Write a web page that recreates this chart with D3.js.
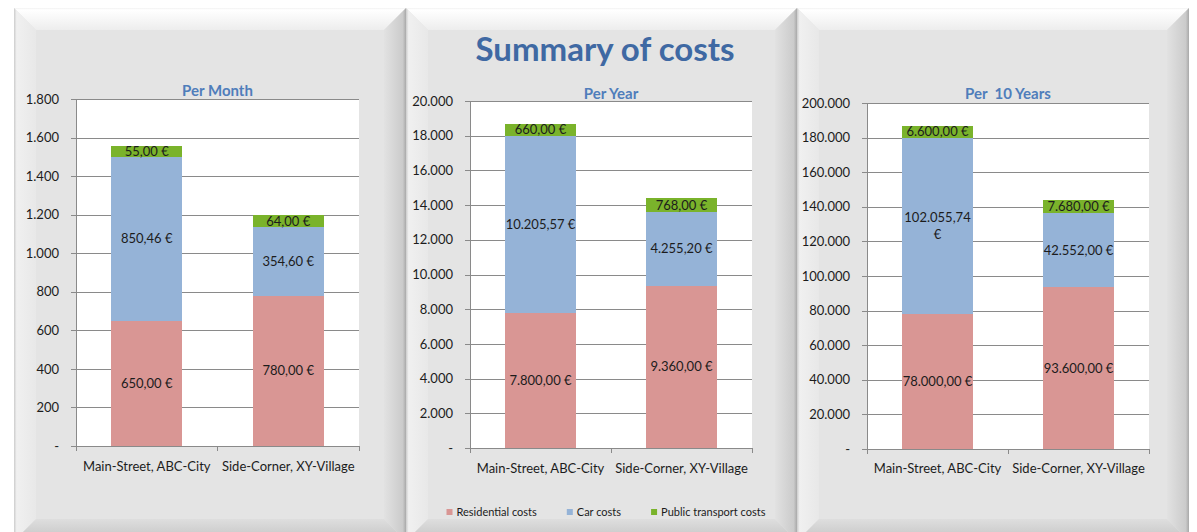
<!DOCTYPE html>
<html>
<head>
<meta charset="utf-8">
<script src="https://cdn.jsdelivr.net/npm/d3@7"></script>
<style>
  html, body { margin: 0; padding: 0; background: #ffffff; }
  svg { display: block; font-family: Lato, "Open Sans", sans-serif; }
</style>
</head>
<body>
<div id="chart"></div>
<script>

// chart data
var chartTitle = 'Summary of costs';
var categories = [ 'Main-Street, ABC-City', 'Side-Corner, XY-Village' ];
var seriesNames = [ 'Residential costs', 'Car costs', 'Public transport costs' ];
var panelTitles = [ 'Per Month', 'Per Year', 'Per  10 Years' ];

// one row per panel, one value per category
var residentialCosts = [ [ 650, 780 ], [ 7800, 9360 ], [ 78000, 93600 ] ];
var carCosts = [ [ 850.46, 354.60 ], [ 10205.57, 4255.20 ], [ 102055.74, 42552.00 ] ];
var publicTransportCosts = [ [ 55, 64 ], [ 660, 768 ], [ 6600, 7680 ] ];

// y axis ticks per panel
var yTicks = [
    [ 0, 200, 400, 600, 800, 1000, 1200, 1400, 1600, 1800 ],
    [ 0, 2000, 4000, 6000, 8000, 10000, 12000, 14000, 16000, 18000, 20000 ],
    [ 0, 20000, 40000, 60000, 80000, 100000, 120000, 140000, 160000, 180000, 200000 ]
];

var seriesColors = [ '#d99694', '#95b3d7', '#7ab32b' ];

// layout
var width = 1197,
    height = 532;

var frames = [
    { x0: 14, x1: 406 },
    { x0: 406, x1: 797 },
    { x0: 797, x1: 1189 }
];
var frameTop = 8,
    frameBottom = 541,
    bevel = 22;

var plots = [
    { l: 76, r: 359, t: 99, b: 446, titleY: 91, labelY: 466 },
    { l: 470, r: 752, t: 101, b: 448, titleY: 94, labelY: 468 },
    { l: 867, r: 1149, t: 103, b: 449, titleY: 94, labelY: 468 }
];

var textColor = '#1c1c1c';

var locale = d3.formatLocale({ decimal: ',', thousands: '.', grouping: [ 3 ], currency: [ '', ' €' ] });
var fmtInt = locale.format(',.0f');
var fmtValue = locale.format('$,.2f');
var fmtTick = function ( v ) { return v === 0 ? '-' : fmtInt( v ); };

var svg = d3.select('#chart').append('svg')
    .attr('width', width)
    .attr('height', height);

var defs = svg.append('defs');

function linear ( id, x1, y1, x2, y2, stops ) {

    var g = defs.append('linearGradient')
        .attr('id', id)
        .attr('x1', x1).attr('y1', y1)
        .attr('x2', x2).attr('y2', y2);

    stops.forEach( function ( s ) {
        g.append('stop').attr('offset', s[ 0 ]).attr('stop-color', s[ 1 ]);
    });

}

linear('bevelTop', 0, 0, 0, 1, [ [ 0, '#f2f2f2' ], [ 0.08, '#ffffff' ], [ 1, '#ededed' ] ]);
linear('bevelLeft', 0, 0, 1, 0, [ [ 0, '#cccccc' ], [ 0.12, '#f0f0f0' ], [ 1, '#e8e8e8' ] ]);
linear('bevelRight', 0, 0, 1, 0, [ [ 0, '#e2e2e2' ], [ 0.85, '#cbcbcb' ], [ 1, '#a9a9a9' ] ]);
linear('bevelBottom', 0, 0, 0, 1, [ [ 0, '#dedede' ], [ 1, '#c4c4c4' ] ]);

/* bevelled panels */

frames.forEach( function ( f ) {

    var g = svg.append('g');
    var x0 = f.x0, x1 = f.x1, y0 = frameTop, y1 = frameBottom, b = bevel;

    g.append('rect')
        .attr('x', x0).attr('y', y0)
        .attr('width', x1 - x0).attr('height', y1 - y0)
        .attr('fill', '#e4e4e4');

    var poly = function ( pts, fill ) {
        g.append('polygon')
            .attr('points', pts.map( function ( p ) { return p.join(','); }).join(' '))
            .attr('fill', fill);
    };

    poly([ [ x0, y0 ], [ x1, y0 ], [ x1 - b, y0 + b ], [ x0 + b, y0 + b ] ], 'url(#bevelTop)');
    poly([ [ x0, y0 ], [ x0 + b, y0 + b ], [ x0 + b, y1 - b ], [ x0, y1 ] ], 'url(#bevelLeft)');
    poly([ [ x1, y0 ], [ x1, y1 ], [ x1 - b, y1 - b ], [ x1 - b, y0 + b ] ], 'url(#bevelRight)');
    poly([ [ x0, y1 ], [ x0 + b, y1 - b ], [ x1 - b, y1 - b ], [ x1, y1 ] ], 'url(#bevelBottom)');

});

/* title */

svg.append('text')
    .attr('x', 605)
    .attr('y', 49)
    .attr('dy', '0.35em')
    .attr('text-anchor', 'middle')
    .style('font-size', '33px')
    .style('font-weight', 'bold')
    .style('fill', '#3f69a3')
    .text( chartTitle );

/* panels */

plots.forEach( function ( p, pi ) {

    var ticks = yTicks[ pi ];

    var rows = categories.map( function ( c, i ) {
        return {
            category: c,
            residential: residentialCosts[ pi ][ i ],
            car: carCosts[ pi ][ i ],
            transport: publicTransportCosts[ pi ][ i ]
        };
    });

    var keys = [ 'residential', 'car', 'transport' ];
    var stacked = d3.stack().keys( keys )( rows );

    var x = d3.scaleBand()
        .domain( categories )
        .range([ p.l, p.r ])
        .paddingInner( 0.5 )
        .paddingOuter( 0.25 );

    var y = d3.scaleLinear()
        .domain([ 0, d3.max( ticks ) ])
        .range([ p.b, p.t ]);

    var g = svg.append('g');

    g.append('rect')
        .attr('x', p.l).attr('y', p.t)
        .attr('width', p.r - p.l).attr('height', p.b - p.t)
        .attr('fill', '#ffffff');

    // gridlines
    var grid = g.append('g')
        .attr('transform', 'translate(' + p.l + ',0)')
        .call( d3.axisLeft( y ).tickValues( ticks ).tickSize( -( p.r - p.l ) ).tickFormat('') );

    grid.select('.domain').remove();
    grid.selectAll('line').attr('stroke', '#8a8a8a').attr('shape-rendering', 'crispEdges');

    // bars
    stacked.forEach( function ( layer, li ) {

        g.append('g')
            .selectAll('rect')
            .data( layer )
            .enter().append('rect')
            .attr('x', function ( d ) { return x( d.data.category ); })
            .attr('y', function ( d ) { return y( d[ 1 ] ); })
            .attr('width', x.bandwidth())
            .attr('height', function ( d ) { return y( d[ 0 ] ) - y( d[ 1 ] ); })
            .attr('fill', seriesColors[ li ])
            .attr('shape-rendering', 'crispEdges');

    });

    // y axis labels + ticks
    var yAxis = g.append('g')
        .attr('transform', 'translate(' + p.l + ',0)')
        .call( d3.axisLeft( y ).tickValues( ticks ).tickSize( 5 ).tickPadding( 12 ).tickFormat( fmtTick ) );

    yAxis.select('.domain').remove();
    yAxis.selectAll('line').attr('stroke', '#8a8a8a').attr('shape-rendering', 'crispEdges');
    yAxis.selectAll('text')
        .style('font-size', '13px')
        .style('font-family', 'Lato, sans-serif')
        .style('fill', textColor);

    g.append('line')
        .attr('x1', p.l).attr('x2', p.l)
        .attr('y1', p.t).attr('y2', p.b)
        .attr('stroke', '#8a8a8a')
        .attr('shape-rendering', 'crispEdges');

    // x axis
    var xAxis = g.append('g')
        .attr('transform', 'translate(0,' + p.b + ')')
        .call( d3.axisBottom( x ).tickSize( 0 ).tickSizeOuter( 0 ) );

    xAxis.select('.domain').attr('stroke', '#8a8a8a').attr('shape-rendering', 'crispEdges');
    xAxis.selectAll('text')
        .attr('y', p.labelY - p.b)
        .attr('dy', '0.35em')
        .style('font-size', '13px')
        .style('font-family', 'Lato, sans-serif')
        .style('fill', textColor);

    d3.range( categories.length + 1 ).forEach( function ( i ) {
        var bx = p.l + i * x.step();
        g.append('line')
            .attr('x1', bx).attr('x2', bx)
            .attr('y1', p.b).attr('y2', p.b + 5)
            .attr('stroke', '#8a8a8a')
            .attr('shape-rendering', 'crispEdges');
    });

    // panel title
    g.append('text')
        .attr('x', ( p.l + p.r ) / 2)
        .attr('y', p.titleY)
        .attr('dy', '0.35em')
        .attr('text-anchor', 'middle')
        .style('font-size', '15px')
        .style('font-weight', 'bold')
        .style('white-space', 'pre')
        .style('fill', '#4f7dbb')
        .text( panelTitles[ pi ] );

    // data labels
    stacked.forEach( function ( layer ) {

        layer.forEach( function ( d ) {

            var cx = x( d.data.category ) + x.bandwidth() / 2;
            var cy = ( y( d[ 0 ] ) + y( d[ 1 ] ) ) / 2;
            var label = fmtValue( d[ 1 ] - d[ 0 ] );

            var t = g.append('text')
                .attr('x', cx)
                .attr('y', cy)
                .attr('dy', '0.35em')
                .attr('text-anchor', 'middle')
                .style('font-size', '13px')
                .style('fill', textColor)
                .text( label );

            // wrap like the spreadsheet does when the label is wider than the bar
            if ( t.node().getComputedTextLength() > x.bandwidth() * 1.05 ) {

                var cut = label.lastIndexOf(' ');
                t.text('');
                t.attr('dy', null);
                t.append('tspan').attr('x', cx).attr('dy', '-0.3em').text( label.slice( 0, cut ) );
                t.append('tspan').attr('x', cx).attr('dy', '1.3em').text( label.slice( cut + 1 ) );

            }

        });

    });

});

/* legend */

var legend = svg.append('g');
var lx = 0;

seriesNames.forEach( function ( name, i ) {

    var item = legend.append('g').attr('transform', 'translate(' + lx + ',0)');

    item.append('rect')
        .attr('x', 0).attr('y', -6)
        .attr('width', 6).attr('height', 6)
        .attr('fill', seriesColors[ i ]);

    var t = item.append('text')
        .attr('x', 10)
        .attr('y', -3)
        .attr('dy', '0.35em')
        .style('font-size', '11px')
        .style('fill', textColor)
        .text( name );

    lx += 10 + t.node().getComputedTextLength() + 30;

});

var legendWidth = lx - 30;
legend.attr('transform', 'translate(' + ( 606 - legendWidth / 2 ) + ',515)');

</script>
</body>
</html>
